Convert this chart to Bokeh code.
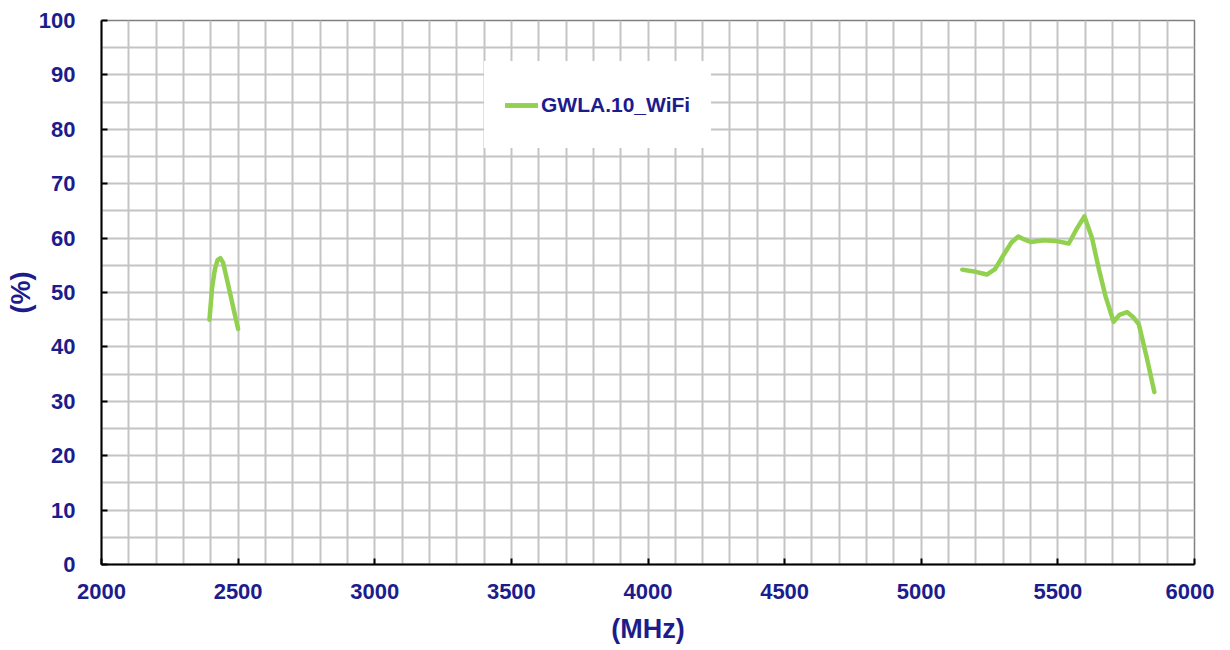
from bokeh.plotting import figure
from bokeh.models import SingleIntervalTicker, Legend, LegendItem, Range1d
from bokeh.embed import file_html
from bokeh.resources import INLINE

# 2.4 GHz band
freq_24 = [2395, 2405, 2415, 2425, 2435, 2445, 2460, 2480, 2500]
eff_24 = [45.0, 51.0, 54.3, 56.0, 56.3, 55.5, 52.2, 47.7, 43.3]
# 5 GHz band
freq_5 = [5150, 5175, 5200, 5240, 5270, 5300, 5330, 5355, 5375, 5400, 5450, 5500, 5540, 5570, 5597,
          5625, 5650, 5675, 5704, 5725, 5753, 5775, 5796, 5825, 5853]
eff_5 = [54.2, 54.0, 53.8, 53.3, 54.3, 56.8, 59.2, 60.3, 59.8, 59.3, 59.6, 59.4, 59.0, 61.8, 64.0,
         60.0, 54.3, 49.2, 44.6, 45.9, 46.4, 45.5, 44.2, 38.1, 31.7]

series_name = "GWLA.10_WiFi"
x_label = "(MHz)"
y_label = "(%)"

NAVY = "#1c1c8c"
GREEN = "#92D050"
FONT = "Liberation Sans"

p = figure(width=1214, height=646, output_backend="svg", toolbar_location=None,
           x_range=Range1d(2000, 6000), y_range=Range1d(0, 100),
           min_border_left=101, min_border_top=20, min_border_right=20, min_border_bottom=82)
p.background_fill_color = "white"
p.border_fill_color = "white"
p.outline_line_color = "#808080"
p.outline_line_width = 1.5

p.xaxis.ticker = SingleIntervalTicker(interval=500)
p.yaxis.ticker = SingleIntervalTicker(interval=10)
p.xgrid.ticker = SingleIntervalTicker(interval=100)
p.ygrid.ticker = SingleIntervalTicker(interval=5)
for g in (p.xgrid, p.ygrid):
    g.grid_line_color = "#c4c4c4"
    g.grid_line_width = 2

for ax in (p.xaxis, p.yaxis):
    ax.axis_line_color = "black"
    ax.axis_line_width = 2
    ax.major_tick_in = 6
    ax.major_tick_out = 0
    ax.major_tick_line_color = "black"
    ax.major_tick_line_width = 2
    ax.minor_tick_line_color = None
    ax.major_label_text_font = FONT
    ax.major_label_text_font_style = "bold"
    ax.major_label_text_font_size = "22px"
    ax.major_label_text_color = NAVY
    ax.axis_label_text_font = FONT
    ax.axis_label_text_font_style = "bold"
    ax.axis_label_text_font_size = "27px"
    ax.axis_label_text_color = NAVY

p.xaxis.major_label_standoff = 15
p.yaxis.major_label_standoff = 22
p.xaxis.axis_label = x_label
p.yaxis.axis_label = y_label
p.xaxis.axis_label_standoff = 12
p.yaxis.axis_label_standoff = 0

r1 = p.line(freq_24, eff_24, line_color=GREEN, line_width=4.5, line_join="round", line_cap="round")
r2 = p.line(freq_5, eff_5, line_color=GREEN, line_width=4.5, line_join="round", line_cap="round")

legend = Legend(items=[LegendItem(label=series_name, renderers=[r1, r2])],
                location=(383, 416))
legend.background_fill_color = "white"
legend.background_fill_alpha = 1
legend.border_line_color = "white"
legend.border_line_width = 1
legend.padding = 20
legend.margin = 0
legend.glyph_width = 33
legend.glyph_height = 30
legend.label_standoff = 3
legend.label_text_font = FONT
legend.label_text_font_style = "bold"
legend.label_text_font_size = "21px"
legend.label_text_color = NAVY
legend.label_height = 45
p.add_layout(legend, "center")

open("out.html", "w").write(file_html(p, INLINE))
